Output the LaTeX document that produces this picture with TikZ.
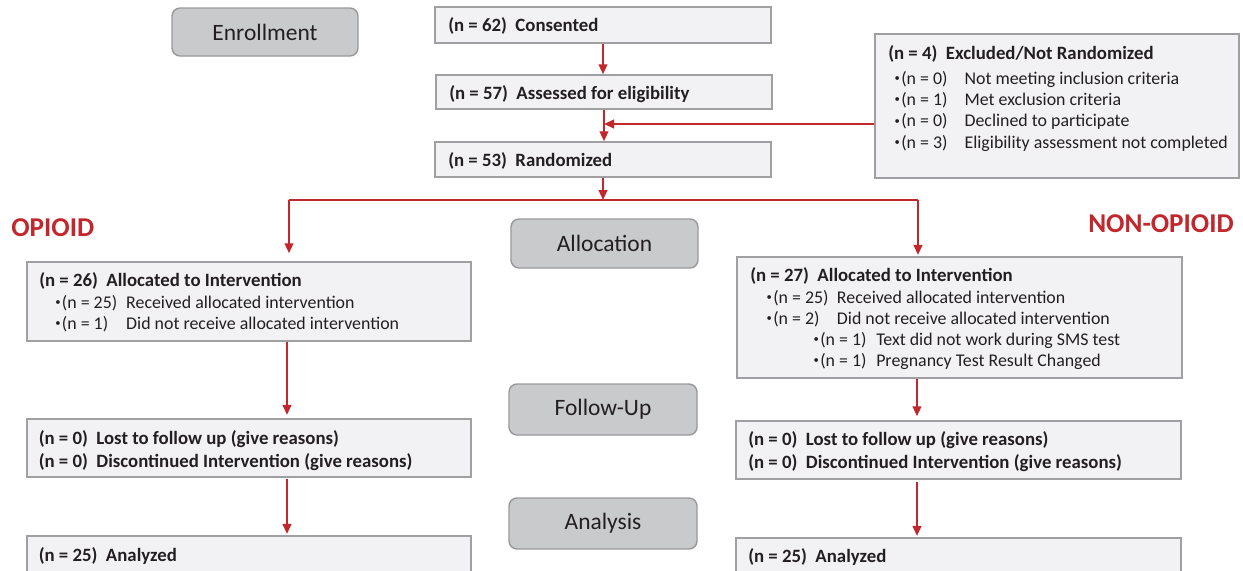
\documentclass[tikz,border=0pt]{standalone}
\usepackage{fontspec}
\setmainfont{Carlito}
\usetikzlibrary{arrows.meta,fit}
\definecolor{boxfill}{HTML}{F2F2F4}
\definecolor{boxdraw}{HTML}{A0A0A2}
\definecolor{stagefill}{HTML}{C9CACC}
\definecolor{stagedraw}{HTML}{9A9A9C}
\definecolor{myred}{HTML}{C1272D}
\definecolor{txt}{HTML}{231F20}
\newcommand\blt{\raisebox{0.3ex}{\fontsize{8}{8}\selectfont\textbullet}}
\newcommand\itm[3]{\llap{\blt\hspace{1pt}}\makebox[#1][l]{#2}#3}
\begin{document}
\begin{tikzpicture}[x=0.75pt,y=-0.75pt,
  box/.style={draw=boxdraw, fill=boxfill, line width=1.1pt, inner sep=0pt},
  stage/.style={draw=stagedraw, fill=stagefill, line width=1.1pt, rounded corners=6pt, inner sep=0pt, text=txt, font=\fontsize{17.6}{20}\selectfont},
  tx/.style={anchor=base west, inner sep=0pt, text=txt, font=\fontsize{13.4}{16}\selectfont},
  btx/.style={tx, font=\fontsize{14.1}{16}\selectfont\bfseries},
  arr/.style={draw=myred, line width=1.5pt, -{Triangle[length=7.5pt,width=6.5pt]}},
  ln/.style={draw=myred, line width=1.5pt},
  group/.style={text=myred, inner sep=0pt, font=\fontsize{20.4}{24}\selectfont\bfseries}]
\useasboundingbox (0,0) rectangle (1243,571);
\clip (0,0) rectangle (1243,571);

% stage labels
\node[stage, minimum width=139.5pt, minimum height=36pt] (enroll) at (265,32) {Enrollment};
\node[stage, minimum width=140.25pt, minimum height=36.75pt] (alloc) at (604.5,243.5) {Allocation};
\node[stage, minimum width=141pt, minimum height=38.25pt] (follow) at (603,409.5) {Follow-Up};
\node[stage, minimum width=141pt, minimum height=38.25pt] (analysis) at (603,523.5) {Analysis};

% group labels
\node[group, anchor=west] (opioid) at (11,228) {OPIOID};
\node[group, anchor=east] (nonopioid) at (1234,224) {NON-OPIOID};

% boxes
\node[box, fit={(435,7) (771,43)}] (consent) {};
\node[box, fit={(436,75) (772,109)}] (assess) {};
\node[box, fit={(435,142) (771,177)}] (random) {};
\node[box, fit={(875,34) (1239,178)}] (excl) {};
\node[box, fit={(27,262) (471,341)}] (allocL) {};
\node[box, fit={(737,257) (1182,378)}] (allocR) {};
\node[box, fit={(27,419) (471,477)}] (fuL) {};
\node[box, fit={(736,421) (1181,479)}] (fuR) {};
\node[box, fit={(27,536) (471,600)}] (anL) {};
\node[box, fit={(736,538) (1181,600)}] (anR) {};

% texts (baselines)
\node[btx] (t1) at (448,31.5) {(n = 62)\hspace{0.45em}Consented};
\node[btx] (t2) at (449,99.5) {(n = 57)\hspace{0.45em}Assessed for eligibility};
\node[btx] (t3) at (448,166.5) {(n = 53)\hspace{0.45em}Randomized};

\node[btx] (e0) at (888,60) {(n = 4)\hspace{0.45em}Excluded/Not Randomized};
\node[tx] (e1) at (901,84) {\itm{47.5pt}{(n = 0)}{Not meeting inclusion criteria}};
\node[tx] (e2) at (901,105.4) {\itm{47.5pt}{(n = 1)}{Met exclusion criteria}};
\node[tx] (e3) at (901,126.8) {\itm{47.5pt}{(n = 0)}{Declined to participate}};
\node[tx] (e4) at (901,148.2) {\itm{47.5pt}{(n = 3)}{Eligibility assessment not completed}};

\node[btx] (l0) at (39,286) {(n = 26)\hspace{0.45em}Allocated to Intervention};
\node[tx] (l1) at (61.7,308.3) {\itm{48.2pt}{(n = 25)}{Received allocated intervention}};
\node[tx] (l2) at (61.7,329.3) {\itm{48.2pt}{(n = 1)}{Did not receive allocated intervention}};

\node[btx] (r0) at (750,281) {(n = 27)\hspace{0.45em}Allocated to Intervention};
\node[tx] (r1) at (773,303) {\itm{47.8pt}{(n = 25)}{Received allocated intervention}};
\node[tx] (r2) at (773,324) {\itm{47.8pt}{(n = 2)}{Did not receive allocated intervention}};
\node[tx] (r3) at (820,345) {\itm{42pt}{(n = 1)}{Text did not work during SMS test}};
\node[tx] (r4) at (820,366.4) {\itm{42pt}{(n = 1)}{Pregnancy Test Result Changed}};

\node[btx] (fl1) at (38.5,444.5) {(n = 0)\hspace{0.45em}Lost to follow up (give reasons)};
\node[btx] (fl2) at (38.5,467) {(n = 0)\hspace{0.45em}Discontinued Intervention (give reasons)};
\node[btx] (fr1) at (748,445.5) {(n = 0)\hspace{0.45em}Lost to follow up (give reasons)};
\node[btx] (fr2) at (748,468) {(n = 0)\hspace{0.45em}Discontinued Intervention (give reasons)};

\node[btx] (al) at (38.5,561) {(n = 25)\hspace{0.45em}Analyzed};
\node[btx] (ar) at (748,562) {(n = 25)\hspace{0.45em}Analyzed};

% connectors
\draw[arr] (consent.south) -- (consent.south |- assess.north);
\draw[arr] (assess.south) -- (assess.south |- random.north);
\coordinate (join) at (604,124);
\draw[arr] (excl.west |- join) -- (join);
\coordinate (split) at (603,200);
\coordinate (lt) at (289,200);
\coordinate (rt) at (918,200);
\draw[arr] (random.south) -- (split);
\draw[ln] (lt) -- (rt);
\draw[arr, shorten >=6pt] (lt) -- (lt |- allocL.north);
\draw[arr, shorten >=1pt] (rt) -- (rt |- allocR.north);
\coordinate (lx) at (287,0);
\coordinate (rx) at (917,0);
\draw[arr, shorten >=2.5pt] (lx |- allocL.south) -- (lx |- fuL.north);
\draw[arr, shorten >=1pt, shorten <=1pt] (lx |- fuL.south) -- (lx |- anL.north);
\draw[arr, shorten >=3pt] (rx |- allocR.south) -- (rx |- fuR.north);
\draw[arr, shorten >=1pt, shorten <=2pt] (rx |- fuR.south) -- (rx |- anR.north);
\end{tikzpicture}
\end{document}
